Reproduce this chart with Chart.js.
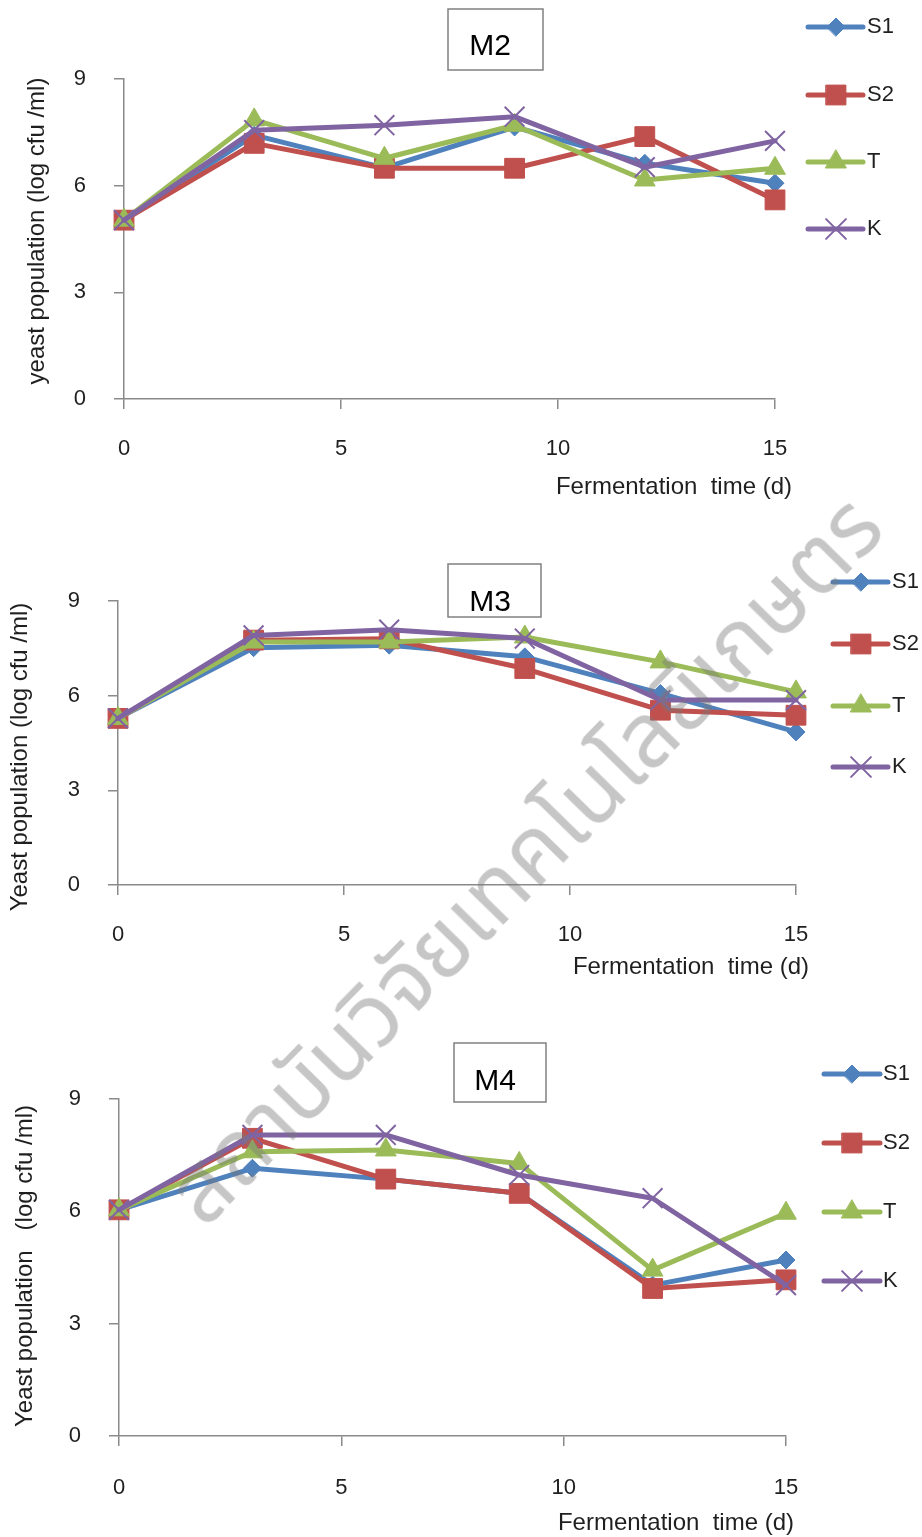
<!DOCTYPE html>
<html><head><meta charset="utf-8">
<script src="https://cdn.jsdelivr.net/npm/chart.js@4.4.1/dist/chart.umd.min.js"></script>
<style>
html,body{margin:0;padding:0;background:#fff;}
body{width:922px;height:1537px;position:relative;overflow:hidden;}
.wrap{position:absolute;left:0;width:922px;}
#wm{position:absolute;left:527px;top:862px;transform:translate(-50%,-50%) rotate(-45.6deg);
 white-space:nowrap;font-family:"Noto Sans Thai","Noto Sans","DejaVu Sans",sans-serif;font-size:89px;
 color:rgba(120,120,120,0.42);pointer-events:none;z-index:5;}
</style></head><body>
<div class="wrap" style="top:0;height:510px"><canvas id="c1"></canvas></div>
<div class="wrap" style="top:510px;height:490px"><canvas id="c2"></canvas></div>
<div class="wrap" style="top:1000px;height:537px"><canvas id="c3"></canvas></div>
<div id="wm">สถาบันวิจัยเทคโนโลยีเกษตร</div>
<script>
// ---- data ----
const days = [0, 3, 6, 9, 12, 15];
const seriesNames = ['S1', 'S2', 'T', 'K'];
const xTickValues = [0, 5, 10, 15];
const yTickValues = [0, 3, 6, 9];
const chartTitles = ['M2', 'M3', 'M4'];
const yTitles = ['yeast population (log cfu /ml)', 'Yeast population (log cfu /ml)', 'Yeast population   (log cfu /ml)'];
const xTitle = 'Fermentation  time (d)';

const m2S1 = [5.03, 7.42, 6.50, 7.65, 6.63, 6.07];
const m2S2 = [5.03, 7.19, 6.49, 6.49, 7.38, 5.60];
const m2T  = [5.03, 7.85, 6.77, 7.70, 6.16, 6.49];
const m2K  = [5.03, 7.56, 7.70, 7.94, 6.52, 7.26];

const m3S1 = [5.28, 7.52, 7.60, 7.23, 6.07, 4.85];
const m3S2 = [5.28, 7.76, 7.80, 6.86, 5.54, 5.38];
const m3T  = [5.28, 7.70, 7.70, 7.86, 7.07, 6.12];
const m3K  = [5.28, 7.91, 8.09, 7.81, 5.86, 5.86];

const m4S1 = [6.04, 7.15, 6.86, 6.48, 4.03, 4.70];
const m4S2 = [6.04, 7.95, 6.86, 6.48, 3.94, 4.17];
const m4T  = [6.04, 7.59, 7.64, 7.28, 4.43, 5.95];
const m4K  = [6.04, 8.04, 8.04, 6.97, 6.35, 4.03];

// ---- styles ----
const colors = ['#4F81BD', '#C0504D', '#9BBB59', '#8064A2'];
const pStyles = ['rectRot', 'rect', 'triangle', 'crossRot'];
const pRadius = [9, 14, 12, 14];
const pBorder = [1, 1, 1, 2];
const FONT = '"Liberation Sans", Arial, sans-serif';
const TXT = '#1f1f1f';
const AX = '#8a8a8a';

function drawMarker(ctx, style, r, bw, x, y, color) {
  if (Chart.helpers && Chart.helpers.drawPoint) {
    ctx.save();
    ctx.fillStyle = color; ctx.strokeStyle = color; ctx.lineWidth = bw;
    Chart.helpers.drawPoint(ctx, {pointStyle: style, radius: r, borderWidth: bw, rotation: 0}, x, y);
    ctx.restore();
  }
}

function decorPlugin(d) {
  return {
    id: 'decor',
    afterDraw(chart) {
      const ctx = chart.ctx;
      ctx.save();
      // title box
      ctx.fillStyle = '#fff';
      ctx.strokeStyle = '#808080';
      ctx.lineWidth = 1.5;
      ctx.fillRect(d.box[0], d.box[1], d.box[2], d.box[3]);
      ctx.strokeRect(d.box[0], d.box[1], d.box[2], d.box[3]);
      ctx.fillStyle = '#000';
      ctx.font = '30px ' + FONT;
      ctx.textAlign = 'center';
      ctx.textBaseline = 'middle';
      ctx.fillText(d.title, d.titlePos[0], d.titlePos[1]);
      // axis titles
      ctx.fillStyle = TXT;
      ctx.font = '24px ' + FONT;
      ctx.textAlign = 'right';
      ctx.fillText(xTitle, d.xTitlePos[0], d.xTitlePos[1]);
      ctx.save();
      ctx.translate(d.yTitlePos[0], d.yTitlePos[1]);
      ctx.rotate(-Math.PI / 2);
      ctx.textAlign = 'center';
      ctx.fillText(d.yTitle, 0, 0);
      ctx.restore();
      // legend
      chart.data.datasets.forEach((ds, i) => {
        const y = d.legY[i];
        ctx.strokeStyle = ds.borderColor;
        ctx.lineWidth = 5;
        ctx.lineCap = 'round';
        ctx.beginPath();
        ctx.moveTo(d.legX[0], y);
        ctx.lineTo(d.legX[2], y);
        ctx.stroke();
        drawMarker(ctx, ds.pointStyle, ds.pointRadius, ds.pointBorderWidth, d.legX[1], y, ds.borderColor);
        ctx.fillStyle = TXT;
        ctx.font = '22px ' + FONT;
        ctx.textAlign = 'left';
        ctx.textBaseline = 'middle';
        ctx.fillText(ds.label, d.legX[3], y);
      });
      ctx.restore();
    }
  };
}

function makeChart(id, canvasTop, canvasH, area, series, deco) {
  const el = document.getElementById(id);
  el.width = 922; el.height = canvasH;
  el.style.width = '922px'; el.style.height = canvasH + 'px';
  const datasets = series.map((vals, i) => ({
    label: seriesNames[i],
    data: days.map((dd, j) => ({x: dd, y: vals[j]})),
    borderColor: colors[i],
    backgroundColor: colors[i],
    pointBackgroundColor: colors[i],
    pointBorderColor: colors[i],
    borderWidth: 5,
    borderJoinStyle: 'round',
    borderCapStyle: 'round',
    pointStyle: pStyles[i],
    pointRadius: pRadius[i],
    pointBorderWidth: pBorder[i],
    tension: 0,
    clip: false,
    order: 4 - i
  }));
  return new Chart(el, {
    type: 'line',
    data: {datasets},
    options: {
      responsive: false,
      animation: false,
      events: [],
      layout: {padding: {left: 0, top: area.T - canvasTop, right: 922 - area.R, bottom: 0}},
      plugins: {legend: {display: false}, tooltip: {enabled: false}, title: {display: false}},
      scales: {
        x: {
          type: 'linear', min: 0, max: 15,
          afterBuildTicks: s => { s.ticks = xTickValues.map(v => ({value: v})); },
          afterFit: s => { s.height = canvasH - (area.B - canvasTop); },
          grid: {drawOnChartArea: false, drawTicks: true, tickLength: 10, color: AX, lineWidth: 1.5},
          border: {display: true, color: AX, width: 1.5},
          ticks: {color: TXT, font: {family: FONT, size: 22}, padding: deco.xPad, maxRotation: 0, autoSkip: false}
        },
        y: {
          type: 'linear', min: 0, max: 9,
          afterBuildTicks: s => { s.ticks = yTickValues.map(v => ({value: v})); },
          afterFit: s => { s.width = area.L; },
          grid: {drawOnChartArea: false, drawTicks: true, tickLength: 10, color: AX, lineWidth: 1.5},
          border: {display: true, color: AX, width: 1.5},
          ticks: {color: TXT, font: {family: FONT, size: 22}, padding: 28, autoSkip: false}
        }
      }
    },
    plugins: [decorPlugin(deco)]
  });
}

makeChart('c1', 0, 510, {L: 124, R: 775, T: 79, B: 399}, [m2S1, m2S2, m2T, m2K], {
  title: chartTitles[0], box: [448, 9, 95, 61], titlePos: [490, 47],
  xTitlePos: [792, 487], yTitlePos: [37, 231], yTitle: yTitles[0],
  legX: [808, 836, 863, 867], legY: [27, 95, 162, 229], xPad: 27
});
makeChart('c2', 510, 490, {L: 118, R: 796, T: 601, B: 885}, [m3S1, m3S2, m3T, m3K], {
  title: chartTitles[1], box: [448, 54, 93, 53], titlePos: [490, 93],
  xTitlePos: [809, 457], yTitlePos: [20, 247], yTitle: yTitles[1],
  legX: [833, 861, 888, 892], legY: [72, 134, 196, 257], xPad: 27
});
makeChart('c3', 1000, 537, {L: 119, R: 786, T: 1099, B: 1436}, [m4S1, m4S2, m4T, m4K], {
  title: chartTitles[2], box: [454, 43, 92, 59], titlePos: [495, 82],
  xTitlePos: [794, 523], yTitlePos: [25, 266], yTitle: yTitles[2],
  legX: [824, 852, 880, 883], legY: [74, 143, 212, 281], xPad: 29
});
</script>
</body></html>
